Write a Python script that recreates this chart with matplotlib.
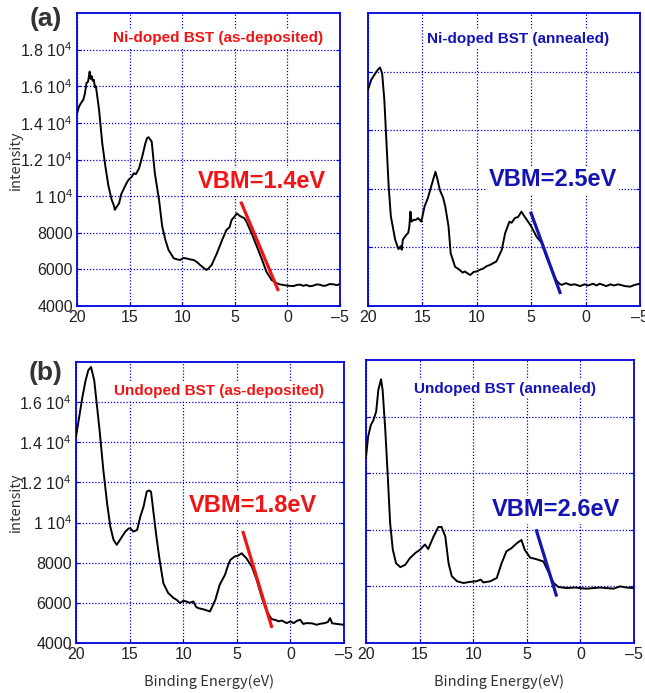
import numpy as np
import matplotlib.pyplot as plt
from matplotlib.ticker import FixedLocator, NullFormatter

# binding energy (eV) / intensity
ni_dep_x = [20.0, 19.8, 19.6, 19.4, 19.25, 19.1, 18.95, 18.85, 18.8, 18.7, 18.6, 18.5, 18.4,
            18.3, 18.2, 17.9, 17.6, 17.3, 17.0, 16.7, 16.5, 16.4, 16.3, 16.0, 15.8, 15.6,
            15.3, 15.1, 14.8, 14.6, 14.4, 14.1, 13.8, 13.5, 13.35, 13.2, 12.9, 12.6, 12.2,
            11.9, 11.6, 11.3, 10.8, 10.5, 10.2, 9.9, 9.6, 9.3, 8.9, 8.6, 8.3, 8.0, 7.7,
            7.5, 7.2, 6.7, 6.2, 5.8, 5.5, 5.3, 5.0, 4.8, 4.6, 4.4, 4.1, 3.9, 3.4, 2.9, 2.4,
            2.0, 1.5, 1.0, 0.7, 0.4, 0.1, -0.2, -0.6, -0.9, -1.2, -1.5, -1.8, -2.1, -2.4,
            -2.8, -3.1, -3.4, -3.7, -4.0, -4.4, -4.7, -5.0]
ni_dep_y = [14500, 14900, 15100, 15260, 15600, 16170, 16250, 16600, 16800, 16400, 16550,
            16300, 16350, 15950, 15990, 14700, 12890, 11610, 10520, 9790, 9500, 9250, 9350,
            9610, 10100, 10340, 10700, 10890, 11050, 11250, 11200, 11520, 12160, 12890,
            13150, 13220, 12980, 11250, 9790, 8340, 7610, 7060, 6600, 6550, 6510, 6620,
            6600, 6550, 6510, 6400, 6240, 6100, 5970, 6050, 6240, 6880, 7610, 8150, 8300,
            8700, 8900, 9060, 8950, 8880, 8800, 8610, 7970, 7240, 6510, 5880, 5420, 5240,
            5180, 5150, 5120, 5100, 5090, 5150, 5170, 5100, 5150, 5080, 5100, 5180, 5160,
            5100, 5120, 5200, 5180, 5140, 5200]

ni_ann_x = [20.0, 19.7, 19.4, 19.1, 18.9, 18.7, 18.5, 18.3, 18.1, 17.9, 17.5, 17.3, 17.2,
            17.0, 16.9, 16.8, 16.5, 16.3, 16.2, 16.1, 16.0, 15.8, 15.6, 15.4, 15.1, 14.8,
            14.5, 14.1, 13.8, 13.6, 13.4, 13.1, 12.9, 12.6, 12.4, 12.0, 11.6, 11.3, 11.1,
            10.8, 10.6, 10.3, 10.0, 9.7, 9.4, 9.1, 8.8, 8.5, 8.2, 7.7, 7.4, 7.0, 6.8, 6.5,
            6.2, 5.9, 5.7, 5.4, 5.0, 4.5, 4.0, 3.6, 3.1, 2.7, 2.4, 2.2, 1.8, 1.4, 1.0, 0.5,
            0.1, -0.2, -0.7, -1.0, -1.3, -1.6, -1.9, -2.3, -2.6, -3.0, -3.2, -3.6, -4.1,
            -4.5, -5.0]
ni_ann_y = [3.69, 3.86, 3.95, 4.03, 4.07, 3.97, 3.52, 2.78, 2.04, 1.53, 1.13, 1.02, 0.97,
            1.02, 0.96, 1.13, 1.21, 1.25, 1.36, 1.61, 1.44, 1.47, 1.47, 1.50, 1.44, 1.70,
            1.84, 2.10, 2.29, 2.15, 1.98, 1.85, 1.70, 1.36, 0.90, 0.67, 0.62, 0.57, 0.59,
            0.55, 0.53, 0.58, 0.59, 0.62, 0.64, 0.68, 0.70, 0.73, 0.76, 0.96, 1.24, 1.44,
            1.42, 1.50, 1.52, 1.61, 1.55, 1.47, 1.36, 1.18, 1.07, 0.84, 0.62, 0.44, 0.38,
            0.36, 0.39, 0.36, 0.37, 0.34, 0.37, 0.35, 0.38, 0.35, 0.38, 0.36, 0.34, 0.37,
            0.35, 0.37, 0.36, 0.34, 0.33, 0.36, 0.38]

un_dep_x = [20.0, 19.7, 19.4, 19.1, 18.85, 18.6, 18.3, 18.1, 17.8, 17.45, 17.1, 16.8, 16.5,
            16.2, 15.9, 15.4, 15.1, 14.95, 14.65, 14.3, 14.0, 13.7, 13.4, 13.2, 13.0, 12.8,
            12.5, 12.2, 11.85, 11.4, 10.9, 10.6, 10.3, 10.0, 9.7, 9.4, 9.05, 8.8, 8.6, 8.3,
            8.0, 7.5, 7.0, 6.6, 6.1, 5.8, 5.6, 5.2, 4.9, 4.55, 4.1, 3.6, 3.15, 2.7, 2.2,
            1.75, 1.4, 1.1, 0.8, 0.35, 0.0, -0.3, -0.6, -0.9, -1.2, -1.5, -2.0, -2.45, -2.8,
            -3.2, -3.5, -3.7, -3.9, -4.2, -4.6, -5.0]
un_dep_y = [14270, 15270, 16260, 17090, 17590, 17750, 17090, 16090, 14600, 12620, 10960,
            9800, 9140, 8890, 9140, 9550, 9700, 9720, 9550, 9630, 10300, 10790, 11540, 11600,
            11540, 10630, 9300, 8140, 6980, 6490, 6240, 6150, 5990, 6100, 6070, 6000, 6070,
            5800, 5740, 5700, 5660, 5570, 6150, 6900, 7400, 7900, 8140, 8310, 8350, 8470,
            8220, 7810, 7150, 6320, 5570, 5190, 5150, 5080, 5120, 4990, 5080, 4990, 5100,
            5160, 4950, 4990, 4980, 4910, 4960, 4990, 5050, 5240, 4980, 4960, 4930, 4910]

un_ann_x = [20.0, 19.8, 19.55, 19.3, 19.05, 18.85, 18.6, 18.45, 18.2, 17.95, 17.75, 17.5,
            17.2, 16.8, 16.35, 15.9, 15.4, 14.95, 14.5, 14.2, 13.7, 13.25, 12.95, 12.6, 12.3,
            12.0, 11.5, 10.9, 10.3, 9.7, 9.3, 9.05, 8.4, 7.8, 7.35, 6.9, 6.4, 5.95, 5.5,
            5.2, 4.7, 4.1, 3.45, 3.0, 2.5, 2.05, 1.3, 0.5, 0.0, -0.6, -1.2, -1.8, -2.45,
            -3.1, -3.7, -4.3, -5.0]
un_ann_y = [3.29, 3.65, 3.85, 3.94, 4.09, 4.47, 4.66, 4.47, 3.76, 2.88, 2.12, 1.65, 1.41,
            1.34, 1.38, 1.50, 1.59, 1.65, 1.74, 1.66, 1.88, 2.05, 2.05, 1.88, 1.41, 1.18,
            1.09, 1.06, 1.08, 1.09, 1.12, 1.07, 1.09, 1.15, 1.41, 1.62, 1.68, 1.76, 1.82,
            1.65, 1.51, 1.48, 1.44, 1.26, 1.06, 0.99, 0.97, 0.98, 0.97, 0.96, 0.97, 0.98,
            0.97, 0.96, 1.00, 0.98, 0.97]

# tangent lines used for the VBM estimate (start/end points)
vbm_lines = [([4.43, 0.85], [9700, 4820]),
             ([5.06, 2.30], [1.61, 0.205]),
             ([4.45, 1.72], [9580, 4750]),
             ([4.14, 2.21], [2.01, 0.82])]
titles = ['Ni-doped BST (as-deposited)', 'Ni-doped BST (annealed)',
          'Undoped BST (as-deposited)', 'Undoped BST (annealed)']
vbm_text = ['VBM=1.4eV', 'VBM=2.5eV', 'VBM=1.8eV', 'VBM=2.6eV']

RED = '#f01414'
BLUE = '#1414b4'
SPINE = '#0000dd'
TICKFONT = ['Liberation Sans Narrow', 'Liberation Sans', 'DejaVu Sans']
JPFONT = ['Noto Sans CJK JP', 'DejaVu Sans']

fig = plt.figure(figsize=(6.45, 6.93), dpi=100)
W, H = 645.0, 693.0

def box(l, r, t, b):
    return [l / W, 1 - b / H, (r - l) / W, (b - t) / H]

ax_tl = fig.add_axes(box(77, 340, 13, 306))
ax_tr = fig.add_axes(box(368, 640, 13, 306))
ax_bl = fig.add_axes(box(76, 344, 362, 643))
ax_br = fig.add_axes(box(366, 634, 360, 643))
axes = [ax_tl, ax_tr, ax_bl, ax_br]

def ylab(v):
    if v < 10000:
        return '%d' % v
    return ('%g' % (v / 10000.0)) + r' $\mathregular{10^4}$'

series = [(ni_dep_x, ni_dep_y), (ni_ann_x, ni_ann_y), (un_dep_x, un_dep_y), (un_ann_x, un_ann_y)]
for i, ax in enumerate(axes):
    x, y = series[i]
    ax.plot(x, y, color='black', lw=1.4, zorder=3)
    col = RED if i % 2 == 0 else BLUE
    lx, ly = vbm_lines[i]
    ax.plot(lx, ly, color=col, lw=2.3, zorder=4, solid_capstyle='butt')
    ax.set_xlim(20, -5)
    ax.xaxis.set_major_locator(FixedLocator([20, 15, 10, 5, 0, -5]))
    for sp in ax.spines.values():
        sp.set_color(SPINE)
        sp.set_linewidth(1.3)
    ax.grid(True, color=SPINE, ls=(0, (1, 1.5)), lw=0.9, zorder=1)
    ax.tick_params(direction='in', length=3, color=SPINE, width=0.8,
                   labelsize=11.5, labelcolor='#222222', right=True, top=False, pad=3)
    ax.set_xticklabels(['20', '15', '10', '5', '0', '\u20135'], family=TICKFONT)

# left panels: real intensity scale
ax_tl.set_ylim(4000, 20000)
ax_tl.yaxis.set_major_locator(FixedLocator([4000, 6000, 8000, 10000, 12000, 14000, 16000, 18000]))
ax_tl.set_yticklabels([ylab(v) for v in ax_tl.get_yticks()], family=TICKFONT)
ax_bl.set_ylim(4000, 18000)
ax_bl.yaxis.set_major_locator(FixedLocator([4000, 6000, 8000, 10000, 12000, 14000, 16000]))
ax_bl.set_yticklabels([ylab(v) for v in ax_bl.get_yticks()], family=TICKFONT)

# right panels: no intensity labels
for ax in (ax_tr, ax_br):
    ax.set_ylim(0, 5)
    ax.yaxis.set_major_locator(FixedLocator([1, 2, 3, 4]))
    ax.yaxis.set_major_formatter(NullFormatter())

# titles and VBM labels (pixel positions)
title_pos = [(218, 38), (518, 39), (219, 391), (505, 389)]
vbm_pos = [(262, 182), (553, 180), (253, 505), (556, 510)]
for i in range(4):
    col = RED if i % 2 == 0 else BLUE
    tx, ty = title_pos[i]
    fig.text(tx / W, 1 - ty / H, titles[i], color=col, fontsize=11, fontweight='bold',
             family='Liberation Sans', ha='center', va='center', zorder=5,
             bbox=dict(facecolor='white', edgecolor='none', pad=1.5))
    vx, vy = vbm_pos[i]
    fig.text(vx / W, 1 - vy / H, vbm_text[i], color=col, fontsize=17, fontweight='bold',
             family='Liberation Sans', ha='center', va='center', zorder=5,
             bbox=dict(facecolor='white', edgecolor='none', pad=1.5))

fig.text(46 / W, 1 - 19 / H, '(a)', fontsize=19, fontweight='bold', color='#333333',
         family='Liberation Sans', ha='center', va='center')
fig.text(46 / W, 1 - 373 / H, '(b)', fontsize=19, fontweight='bold', color='#333333',
         family='Liberation Sans', ha='center', va='center')

for yy in (160, 502):
    fig.text(16 / W, 1 - yy / H, 'intensity', rotation=90, fontsize=10.5, color='#333333',
             family=JPFONT, ha='center', va='center')
for xx in (209, 499):
    fig.text(xx / W, 1 - 682 / H, 'Binding Energy(eV)', fontsize=10.5, color='#333333',
             family=JPFONT, ha='center', va='center')

fig.savefig('out.png', dpi=100)
